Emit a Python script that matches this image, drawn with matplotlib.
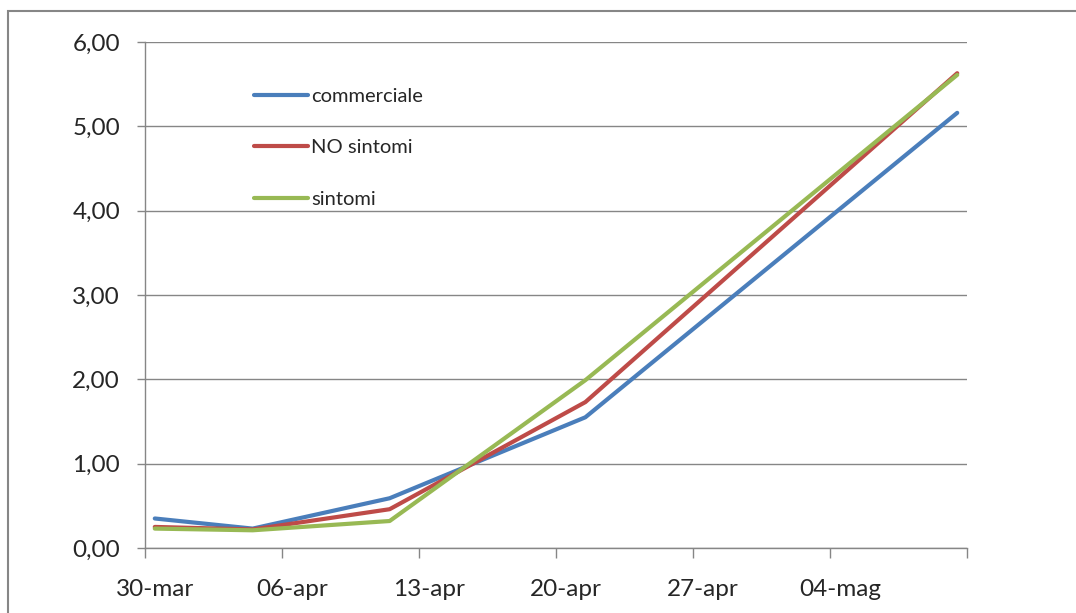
import datetime as dt
import matplotlib
matplotlib.use("Agg")
import matplotlib.pyplot as plt
import matplotlib.dates as mdates
from matplotlib.patches import Rectangle
from matplotlib.ticker import FuncFormatter, FixedLocator

plt.rcParams['font.family'] = ['Lato', 'DejaVu Sans']

# data
dates = [dt.datetime(2020, 3, 30), dt.datetime(2020, 4, 4), dt.datetime(2020, 4, 11),
         dt.datetime(2020, 4, 21), dt.datetime(2020, 5, 10)]
commerciale = [0.35, 0.23, 0.59, 1.55, 5.16]
no_sintomi = [0.25, 0.22, 0.46, 1.73, 5.63]
sintomi = [0.23, 0.21, 0.32, 1.99, 5.61]

series_names = ['commerciale', 'NO sintomi', 'sintomi']
colors = ['#4A7EBB', '#BE4B48', '#98B954']

tick_dates = [dt.datetime(2020, 3, 30) + dt.timedelta(days=7 * i) for i in range(7)]
tick_labels = ['30-mar', '06-apr', '13-apr', '20-apr', '27-apr', '04-mag', '']

fig = plt.figure(figsize=(10.76, 6.13), dpi=100)
ax = fig.add_axes([145 / 1076, 1 - 548 / 613, (967 - 145) / 1076, (548 - 42) / 613])

# excel puts the points in the middle of each day
half = dt.timedelta(hours=12)
x = [d + half for d in dates]
for vals, name, c in zip([commerciale, no_sintomi, sintomi], series_names, colors):
    ax.plot(x, vals, color=c, lw=3, label=name, solid_capstyle='round', solid_joinstyle='round')

ax.set_xlim(tick_dates[0], tick_dates[-1])
ax.set_ylim(0, 6)
ax.set_yticks([0, 1, 2, 3, 4, 5, 6])
ax.yaxis.set_major_formatter(FuncFormatter(lambda v, p: f'{v:.2f}'.replace('.', ',')))

ax.xaxis.set_major_locator(FixedLocator(mdates.date2num(tick_dates)))
ax.xaxis.set_major_formatter(FuncFormatter(lambda v, p: ''))
ax.xaxis.set_minor_locator(FixedLocator(mdates.date2num([d + half for d in tick_dates])))
ax.xaxis.set_minor_formatter(FuncFormatter(lambda v, p: tick_labels[p] if p is not None and p < len(tick_labels) else ''))
ax.tick_params(axis='x', which='major', length=7, width=1, color='#868686', direction='out')
ax.tick_params(axis='x', which='minor', length=0, pad=22, labelsize=17.5, labelcolor='#262626')
ax.tick_params(axis='y', length=6, width=1, color='#868686', pad=12, labelsize=17.5, labelcolor='#262626')

ax.grid(axis='y', color='#868686', lw=1)
ax.set_axisbelow(True)
for s in ['top', 'right']:
    ax.spines[s].set_visible(False)
for s in ['left', 'bottom']:
    ax.spines[s].set_color('#868686')
    ax.spines[s].set_linewidth(1)

leg = ax.legend(loc='upper left', bbox_to_anchor=(246 / 1076, 1 - 80 / 613),
                bbox_transform=fig.transFigure, frameon=False, fontsize=14.5,
                handlelength=2.7, handletextpad=0.15, labelspacing=1.7, borderaxespad=0)
for t in leg.get_texts():
    t.set_color('#262626')

# outer chart border
fig.add_artist(Rectangle((8 / 1076, -0.1), 2, 1.1 - 11 / 613, transform=fig.transFigure,
                         fill=False, edgecolor='#868686', lw=1.5))

fig.savefig('out.png', dpi=100)
